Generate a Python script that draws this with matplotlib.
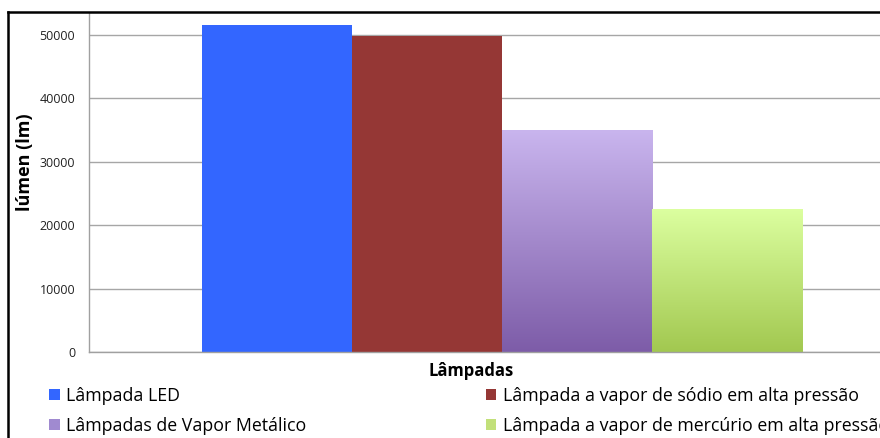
import numpy as np
import matplotlib
matplotlib.use("Agg")
import matplotlib.pyplot as plt
from matplotlib.patches import Patch
from matplotlib.colors import LinearSegmentedColormap
from matplotlib.lines import Line2D

plt.rcParams['font.family'] = ['Open Sans', 'DejaVu Sans']

series = ["Lâmpada LED",
          "Lâmpada a vapor de sódio em alta pressão",
          "Lâmpadas de Vapor Metálico",
          "Lâmpada a vapor de mercúrio em alta pressão"]
values = [51600, 49800, 35000, 22600]
yticks = [0, 10000, 20000, 30000, 40000, 50000]
xlabel = "Lâmpadas"
ylabel = "lúmen (lm)"

# colours: (top, bottom) for gradients
grad = [("#3366FF", "#3366FF"),
        ("#953735", "#953735"),
        ("#c9b5ee", "#7d5ca8"),
        ("#dcffa0", "#a2c850")]
legend_cols = ["#3366FF", "#953735", "#a08ad0", "#c2e07a"]

W, H = 880, 438
fig = plt.figure(figsize=(W / 100, H / 100), dpi=100)
ax = fig.add_axes([89 / W, 86 / H, (915 - 89) / W, (425 - 86) / H])

n = len(values)
bw = 1 / (n + 1.5)
x0 = -bw * n / 2
for i, v in enumerate(values):
    b = ax.bar(x0 + bw * (i + 0.5), v, width=bw, color=grad[i][0], linewidth=0, zorder=2)
    p = b.patches[0]
    if grad[i][0] != grad[i][1]:
        p.set_facecolor("none")
        cmap = LinearSegmentedColormap.from_list("g", [grad[i][1], grad[i][0]])
        xl = x0 + bw * i
        im = ax.imshow(np.linspace(0, 1, 256).reshape(-1, 1), cmap=cmap, origin="lower",
                       extent=[xl, xl + bw, 0, v], aspect="auto", zorder=2)
        im.set_clip_path(p)

ax.set_xlim(-0.5, 0.5)
ax.set_ylim(0, 53470)
ax.set_yticks(yticks)
ax.set_yticklabels([str(t) for t in yticks], fontsize=9, color="#222222")
ax.set_xticks([])
ax.tick_params(axis="y", length=0, pad=10)
ax.yaxis.grid(True, color="#a6a6a6", linewidth=1)
ax.set_axisbelow(True)
for s in ["top", "right"]:
    ax.spines[s].set_visible(False)
for s in ["left", "bottom"]:
    ax.spines[s].set_color("#a0a0a0")
    ax.spines[s].set_linewidth(1)

fig.text(25 / W, 1 - 162 / H, ylabel, rotation=90, ha="center", va="center",
         fontsize=13, fontweight="bold")
fig.text(471 / W, 1 - 371 / H, xlabel, ha="center", va="center",
         fontsize=12, fontweight="bold")

handles = [Patch(facecolor=legend_cols[i], edgecolor="none", label=series[i]) for i in [0, 2, 1, 3]]
fig.legend(handles=handles, ncol=2, loc="upper left", bbox_to_anchor=(42 / W, 1 - 380 / H),
           frameon=False, fontsize=12.8, handlelength=0.6, handleheight=0.6,
           handletextpad=0.35, columnspacing=10.1, labelspacing=0.67, borderaxespad=0)

# outer chart frame (cropped on the right/bottom)
fig.add_artist(Line2D([8 / W, 8 / W], [1 - 12 / H, 0], transform=fig.transFigure,
                      color="black", linewidth=1.8))
fig.add_artist(Line2D([8 / W, 1], [1 - 12 / H, 1 - 12 / H], transform=fig.transFigure,
                      color="black", linewidth=1.8))

fig.savefig("out.png", dpi=100)
